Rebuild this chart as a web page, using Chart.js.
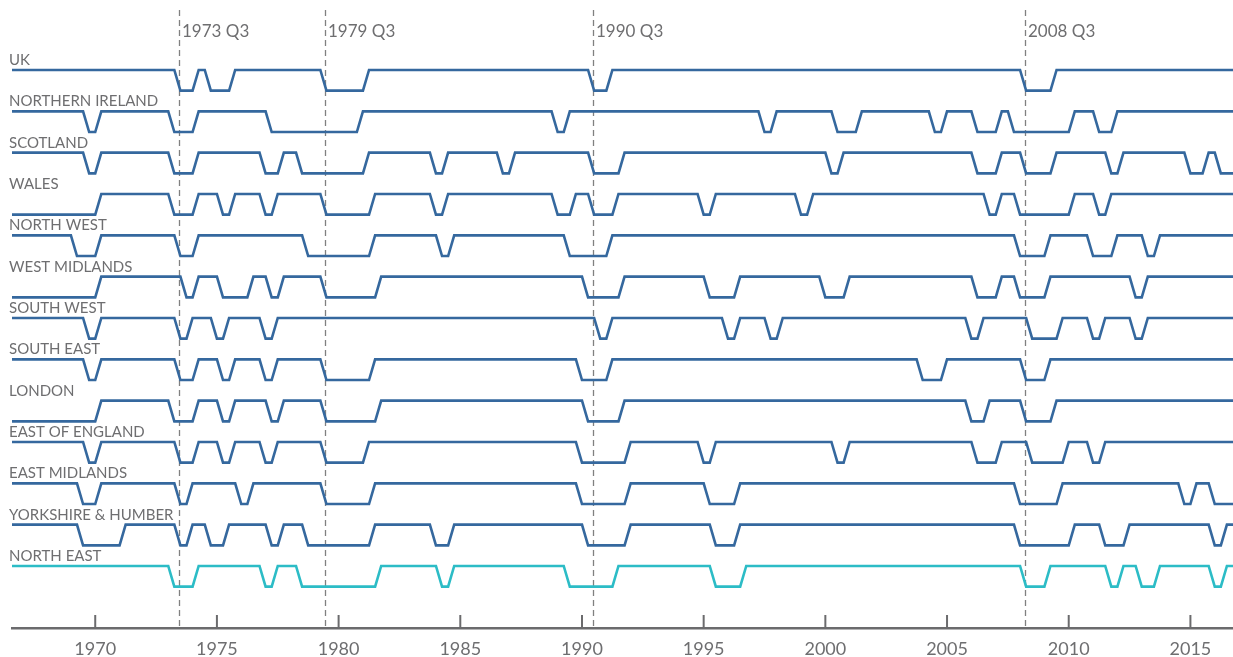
<!DOCTYPE html>
<html>
<head>
<meta charset="utf-8">
<script src="https://cdn.jsdelivr.net/npm/chart.js@4.4.1/dist/chart.umd.min.js"></script>
<style>
  html, body { margin: 0; padding: 0; background: #fff; }
  #wrap { width: 1233px; height: 657px; }
</style>
</head>
<body>
<div id="wrap"><canvas id="recessionChart" width="1233" height="657"></canvas></div>
<script>
// regions from top to bottom
const regions = ['UK', 'NORTHERN IRELAND', 'SCOTLAND', 'WALES', 'NORTH WEST', 'WEST MIDLANDS',
  'SOUTH WEST', 'SOUTH EAST', 'LONDON', 'EAST OF ENGLAND', 'EAST MIDLANDS', 'YORKSHIRE & HUMBER', 'NORTH EAST'];

const firstQuarter = '1966Q3';
const lastQuarter = '2016Q4';

// quarters in recession: [first quarter, last quarter]
const ukDown = [['1973Q3', '1974Q1'], ['1974Q4', '1975Q3'], ['1979Q3', '1981Q1'], ['1990Q3', '1991Q1'], ['2008Q2', '2009Q2']];
const niDown = [['1969Q4', '1970Q1'], ['1973Q2', '1974Q1'], ['1977Q2', '1980Q4'], ['1989Q1', '1989Q2'], ['1997Q3', '1997Q4'],
  ['2000Q3', '2001Q2'], ['2004Q3', '2004Q4'], ['2006Q2', '2007Q1'], ['2007Q4', '2010Q1'], ['2011Q2', '2011Q4']];
const scotlandDown = [['1969Q4', '1970Q1'], ['1973Q2', '1974Q1'], ['1977Q1', '1977Q3'], ['1978Q3', '1981Q1'], ['1984Q1', '1984Q2'],
  ['1986Q4', '1987Q1'], ['1990Q3', '1991Q3'], ['2000Q2', '2000Q3'], ['2006Q2', '2007Q1'], ['2008Q2', '2009Q2'],
  ['2011Q4', '2012Q1'], ['2015Q1', '2015Q3'], ['2016Q2', '2016Q4']];
const walesDown = [['1966Q3', '1970Q1'], ['1973Q2', '1974Q1'], ['1975Q2', '1975Q3'], ['1977Q1', '1977Q2'], ['1979Q3', '1981Q2'],
  ['1984Q1', '1984Q2'], ['1989Q1', '1989Q3'], ['1990Q3', '1991Q2'], ['1995Q1', '1995Q2'], ['1999Q1', '1999Q2'],
  ['2006Q4', '2007Q1'], ['2008Q1', '2010Q1'], ['2011Q2', '2011Q3']];
const northWestDown = [['1969Q2', '1970Q1'], ['1973Q3', '1974Q1'], ['1978Q4', '1981Q2'], ['1984Q2', '1984Q3'], ['1989Q3', '1991Q1'],
  ['2008Q1', '2009Q1'], ['2011Q1', '2011Q4'], ['2013Q2', '2013Q3']];
const westMidlandsDown = [['1966Q3', '1970Q1'], ['1973Q4', '1974Q1'], ['1975Q2', '1976Q2'], ['1977Q2', '1977Q3'], ['1979Q3', '1981Q3'],
  ['1990Q2', '1991Q3'], ['1995Q2', '1996Q2'], ['2000Q1', '2000Q4'], ['2006Q2', '2007Q1'], ['2008Q1', '2009Q1'], ['2012Q4', '2013Q1']];
const southWestDown = [['1969Q4', '1970Q1'], ['1973Q3', '1973Q4'], ['1975Q1', '1975Q2'], ['1977Q1', '1977Q2'], ['1990Q4', '1991Q1'],
  ['1996Q1', '1996Q2'], ['1997Q4', '1998Q1'], ['2006Q1', '2006Q2'], ['2008Q3', '2009Q3'], ['2011Q1', '2011Q2'], ['2012Q4', '2013Q1']];
const southEastDown = [['1969Q4', '1970Q1'], ['1973Q3', '1974Q1'], ['1975Q2', '1975Q3'], ['1977Q1', '1977Q2'], ['1979Q3', '1981Q2'],
  ['1990Q1', '1991Q1'], ['2004Q1', '2004Q4'], ['2008Q2', '2009Q1']];
const londonDown = [['1966Q3', '1970Q1'], ['1973Q2', '1974Q1'], ['1975Q2', '1975Q3'], ['1977Q2', '1977Q3'], ['1979Q3', '1981Q3'],
  ['1990Q2', '1991Q3'], ['2006Q1', '2006Q3'], ['2008Q2', '2009Q2']];
const eastOfEnglandDown = [['1969Q4', '1970Q1'], ['1973Q3', '1974Q1'], ['1975Q2', '1975Q3'], ['1977Q1', '1977Q2'], ['1979Q3', '1981Q1'],
  ['1990Q1', '1991Q4'], ['1995Q1', '1995Q2'], ['2000Q3', '2000Q4'], ['2006Q2', '2007Q1'], ['2008Q3', '2009Q4'], ['2011Q1', '2011Q2']];
const eastMidlandsDown = [['1969Q3', '1970Q1'], ['1973Q3', '1973Q4'], ['1976Q1', '1976Q2'], ['1979Q3', '1981Q2'], ['1990Q1', '1991Q4'],
  ['1995Q2', '1996Q2'], ['2008Q1', '2009Q3'], ['2014Q4', '2015Q1'], ['2016Q1', '2016Q4']];
const yorkshireDown = [['1969Q3', '1971Q1'], ['1973Q3', '1973Q4'], ['1974Q4', '1975Q2'], ['1977Q2', '1977Q3'], ['1978Q4', '1981Q2'],
  ['1984Q1', '1984Q3'], ['1990Q2', '1991Q4'], ['1995Q3', '1996Q2'], ['2008Q1', '2010Q1'], ['2011Q3', '2012Q2'], ['2016Q1', '2016Q2']];
const northEastDown = [['1973Q2', '1974Q1'], ['1977Q1', '1977Q2'], ['1978Q3', '1981Q3'], ['1984Q2', '1984Q3'], ['1989Q3', '1991Q2'],
  ['1995Q3', '1996Q3'], ['2008Q2', '2009Q1'], ['2011Q4', '2012Q1'], ['2013Q1', '2013Q3'], ['2016Q1', '2016Q2']];

const regionDown = [ukDown, niDown, scotlandDown, walesDown, northWestDown, westMidlandsDown, southWestDown,
  southEastDown, londonDown, eastOfEnglandDown, eastMidlandsDown, yorkshireDown, northEastDown];

const tickYears = [1970, 1975, 1980, 1985, 1990, 1995, 2000, 2005, 2010, 2015];

// UK downturn starts marked with dashed lines
const eventQuarters = ['1973Q3', '1979Q3', '1990Q3', '2008Q2'];
const eventLabels = ['1973 Q3', '1979 Q3', '1990 Q3', '2008 Q3'];

const blue = '#35689e';
const teal = '#2cbcc6';
const textGrey = '#6e6e70';
const axisGrey = '#6b6b6d';

function quarterValue(s) {
  const [y, q] = s.split('Q').map(Number);
  return y + (q - 1) / 4;
}

// one point per quarter, high when growing, low in recession
function buildSeries(down, row) {
  const pts = [];
  const end = quarterValue(lastQuarter);
  for (let t = quarterValue(firstQuarter); t <= end; t += 0.25) {
    const isDown = down.some(([a, b]) => t >= quarterValue(a) && t <= quarterValue(b));
    pts.push({ x: t, y: row * 2 + (isDown ? 0 : 1) });
  }
  return pts;
}

const datasets = regions.map((name, i) => ({
  label: name,
  data: buildSeries(regionDown[i], regions.length - 1 - i),
  borderColor: i === regions.length - 1 ? teal : blue,
  borderWidth: 2.6,
  pointRadius: 0,
  tension: 0,
  fill: false
}));

const decorations = {
  id: 'decorations',
  beforeDatasetsDraw(chart) {
    const { ctx, chartArea, scales: { x } } = chart;
    ctx.save();
    // dashed event lines
    ctx.strokeStyle = '#808080';
    ctx.lineWidth = 1.3;
    ctx.setLineDash([6, 4]);
    eventQuarters.forEach(q => {
      const px = Math.round(x.getPixelForValue(quarterValue(q))) - 0.5;
      ctx.beginPath();
      ctx.moveTo(px, 10);
      ctx.lineTo(px, chartArea.bottom);
      ctx.stroke();
    });
    ctx.setLineDash([]);
    // ticks pointing up from the axis
    ctx.strokeStyle = axisGrey;
    ctx.lineWidth = 2;
    tickYears.forEach(v => {
      const px = x.getPixelForValue(v);
      ctx.beginPath();
      ctx.moveTo(px, chartArea.bottom - 13);
      ctx.lineTo(px, chartArea.bottom);
      ctx.stroke();
    });
    ctx.restore();
  },
  afterDatasetsDraw(chart) {
    const { ctx, scales: { x, y } } = chart;
    ctx.save();
    ctx.fillStyle = textGrey;
    ctx.textAlign = 'left';
    ctx.textBaseline = 'alphabetic';
    ctx.font = '15px Lato';
    regions.forEach((name, i) => {
      const row = regions.length - 1 - i;
      ctx.fillText(name, 9, y.getPixelForValue(row * 2 + 1) - 5);
    });
    ctx.font = '17px Lato';
    eventQuarters.forEach((q, i) => {
      ctx.fillText(eventLabels[i], Math.round(x.getPixelForValue(quarterValue(q))) + 2, 37);
    });
    ctx.restore();
  }
};

new Chart(document.getElementById('recessionChart'), {
  type: 'line',
  data: { datasets: datasets },
  options: {
    responsive: false,
    animation: false,
    events: [],
    layout: { padding: { left: 12, right: 0, top: 8, bottom: 0 } },
    plugins: { legend: { display: false }, tooltip: { enabled: false } },
    scales: {
      x: {
        type: 'linear',
        min: 1966.58,
        max: 2016.75,
        afterBuildTicks: s => { s.ticks = tickYears.map(v => ({ value: v })); },
        afterFit: s => { s.height = 29; },
        grid: { display: false, drawTicks: false },
        border: { display: true, color: axisGrey, width: 2.5 },
        ticks: {
          padding: 10,
          color: textGrey,
          font: { family: 'Lato', size: 18 },
          callback: v => String(v)
        }
      },
      y: { display: false, min: -2, max: 28 }
    }
  },
  plugins: [decorations]
});
</script>
</body>
</html>
